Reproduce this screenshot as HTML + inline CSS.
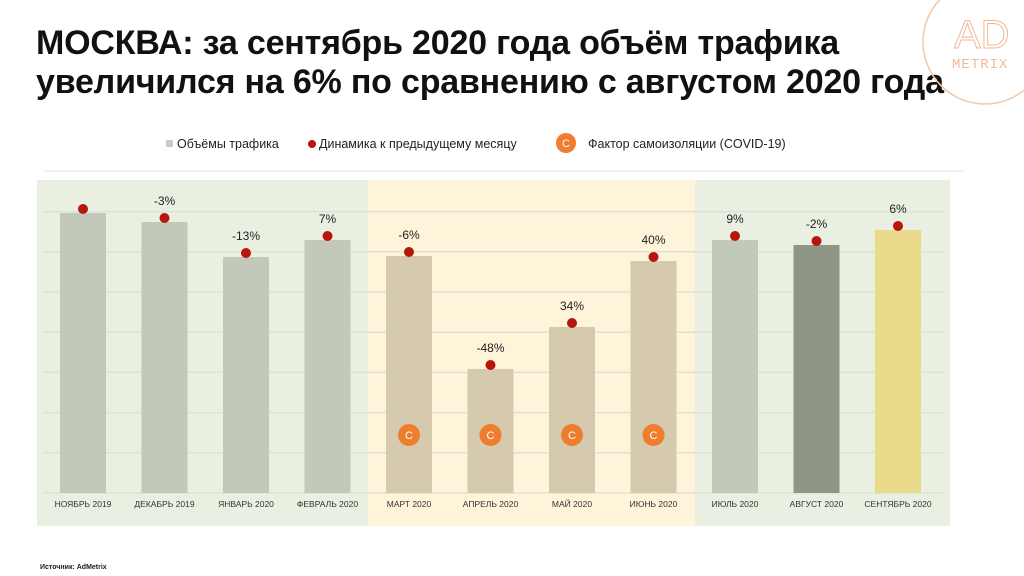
<!DOCTYPE html>
<html><head><meta charset="utf-8"><style>
html,body{margin:0;padding:0;background:#fff;}
body{width:1024px;height:576px;overflow:hidden;position:relative;font-family:"Liberation Sans","Noto Sans CJK SC",sans-serif;}
.title{position:absolute;left:36px;top:24px;font-size:34px;font-weight:bold;line-height:39px;color:#111;letter-spacing:-0.2px;}
</style></head><body>
<div class="title">МОСКВА: за сентябрь 2020 года объём трафика<br>увеличился на 6% по сравнению с августом 2020 года</div>
<svg width="1024" height="576" style="position:absolute;left:0;top:0" id="svg">
 <g>
  <circle cx="985" cy="42" r="62" fill="none" stroke="#f0c9a8" stroke-width="1.5"/>
  <text x="954" y="48" font-size="40" fill="none" stroke="#f0b896" stroke-width="1" font-family="Liberation Sans">AD</text>
  <text x="952" y="68" font-size="14" fill="#f0b896" font-family="Liberation Mono" letter-spacing="1">METRIX</text>
 </g>
 <g font-size="12.5" fill="#222">
  <rect x="166" y="140" width="7" height="7" fill="#c8ccc2"/>
  <text x="177" y="148">Объёмы трафика</text>
  <circle cx="312" cy="144" r="4" fill="#b7160d"/>
  <text x="319" y="148">Динамика к предыдущему месяцу</text>
  <circle cx="566" cy="143" r="10" fill="#ef7d2e"/>
  <text x="566" y="147" text-anchor="middle" fill="#fff" font-size="11">С</text>
  <text x="588" y="148">Фактор самоизоляции (COVID-19)</text>
 </g>
 <line x1="43" y1="171" x2="965" y2="171" stroke="#e6e6e6"/>
 <g id="chart"></g>
 <text x="40" y="569" font-size="7" font-weight="bold" fill="#222">Источник: AdMetrix</text>
</svg>
<script>
const categories=["НОЯБРЬ 2019","ДЕКАБРЬ 2019","ЯНВАРЬ 2020","ФЕВРАЛЬ 2020","МАРТ 2020","АПРЕЛЬ 2020","МАЙ 2020","ИЮНЬ 2020","ИЮЛЬ 2020","АВГУСТ 2020","СЕНТЯБРЬ 2020"];
const volumes=[280,271,236,253,237,124,166,232,253,248,263];
const changeLabels=["","-3%","-13%","7%","-6%","-48%","34%","40%","9%","-2%","6%"];
const covid=[0,0,0,0,1,1,1,1,0,0,0];
const NS="http://www.w3.org/2000/svg";
const g=document.getElementById('chart');
function el(t,a,p){const e=document.createElementNS(NS,t);for(const k in a)e.setAttribute(k,a[k]);(p||g).appendChild(e);return e;}
const x0=83,step=81.5,base=493;
const xS=i=>x0+i*step;
const yS=v=>base-v*1.0;
let r;
r=el('rect',{x:37,y:180,width:331,height:346,fill:'#e9f0e2'});

r=el('rect',{x:368,y:180,width:327,height:346,fill:'#fdf4da'});

r=el('rect',{x:695,y:180,width:255,height:346,fill:'#e9f0e2'});

for(let k=0;k<8;k++){const y=base-k*40.2;const l=el('line',{x1:43,x2:945,y1:y,y2:y,stroke:'#dde3d4','stroke-width':1.5});
}
categories.forEach((c,i)=>{
 const cx=xS(i),v=volumes[i];
 let fill=covid[i]?'#d5caad':'#c2c8ba';
 if(i===9)fill='#8e9786'; if(i===10)fill='#e9da8c';
 const b=el('rect',{x:cx-23,y:yS(v),width:46,height:base-yS(v),fill:fill});
 
 const d=el('circle',{cx:cx,cy:yS(v)-4,r:5,fill:'#b7160d'});
 
 if(changeLabels[i]){const t=el('text',{x:cx,y:yS(v)-17,'text-anchor':'middle','font-size':12,fill:'#222'});t.textContent=changeLabels[i];
 }
 const xl=el('text',{x:cx,y:507,'text-anchor':'middle','font-size':8.5,fill:'#333'});xl.textContent=c;
 
 if(covid[i]){const cc=el('circle',{cx:cx,cy:435,r:11,fill:'#ef7d2e'});
 
 const ct=el('text',{x:cx,y:439,'text-anchor':'middle','font-size':11,fill:'#fff'});ct.textContent='С';
 }
});
</script>
</body></html>
